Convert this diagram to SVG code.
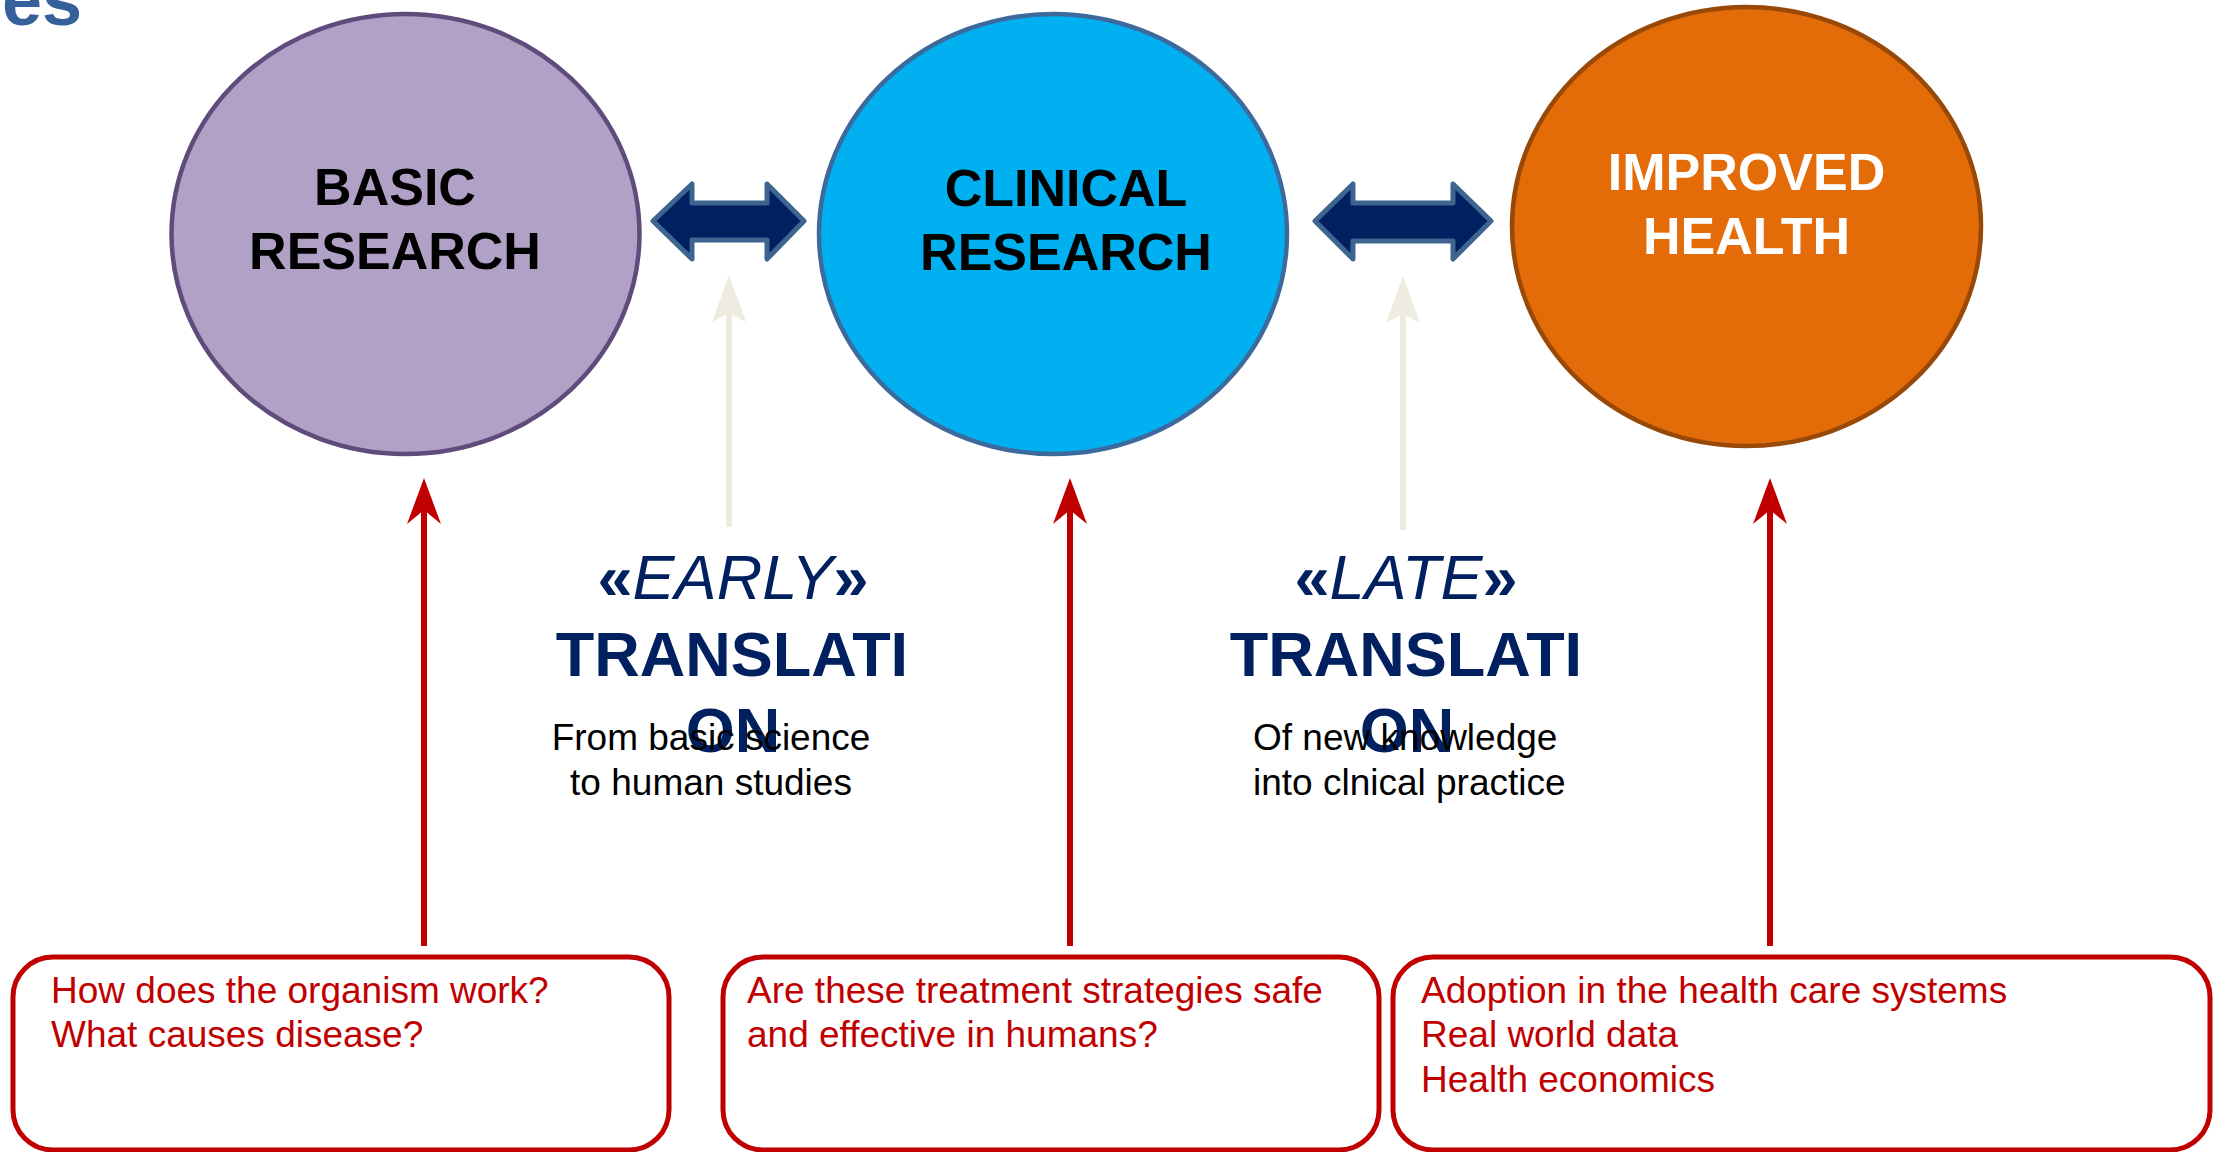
<svg xmlns="http://www.w3.org/2000/svg" width="2220" height="1152" viewBox="0 0 2220 1152">
<defs>
<style>
text{font-family:"Liberation Sans",Arial,sans-serif}
.node-label{font-weight:bold;font-size:52px;text-anchor:middle}
.tr-italic{font-style:italic;font-size:63px;fill:#002060;text-anchor:middle}
.gq{font-style:normal;font-weight:bold}
.tr-bold{font-weight:bold;font-size:63px;fill:#002060;text-anchor:middle}
.sub{font-size:37px;fill:#000}
.qtext{font-size:37px;fill:#c00000}
.qbox{fill:#fff;stroke:#c00000;stroke-width:5}
.red-line{stroke:#c00000;stroke-width:6;fill:none}
.light-line{stroke:#eeece1;stroke-width:6;fill:none}
.dbl{fill:#002060;stroke:#3d6590;stroke-width:5;stroke-linejoin:round}
</style>
<marker id="redHead" markerUnits="userSpaceOnUse" viewBox="-16 -17 46 34" refX="0" refY="0" markerWidth="46" markerHeight="34" orient="auto">
<path d="M30,0 L-16,-17 L-2,0 L-16,17 Z" fill="#c00000"/>
</marker>
<marker id="lightHead" markerUnits="userSpaceOnUse" viewBox="-17 -17 47 34" refX="0" refY="0" markerWidth="47" markerHeight="34" orient="auto">
<path d="M30,0 L-17,-17 L-8,0 L-17,17 Z" fill="#eeece1"/>
</marker>
</defs>
<rect width="2220" height="1152" fill="#fff"/>
<text x="2" y="25" style="font-weight:bold;font-size:72px;fill:#36609a">es</text>

<g id="node-basic">
<ellipse cx="405.5" cy="234" rx="234" ry="220" fill="#b2a1c7" stroke="#5f4b7c" stroke-width="4.5"/>
<text class="node-label" x="395" y="205">BASIC</text>
<text class="node-label" x="395" y="269">RESEARCH</text>
</g>
<g id="node-clinical">
<ellipse cx="1053" cy="234" rx="234" ry="220" fill="#00b0f0" stroke="#3d6a9c" stroke-width="4.5"/>
<text class="node-label" x="1066" y="206">CLINICAL</text>
<text class="node-label" x="1066" y="270">RESEARCH</text>
</g>
<g id="node-health">
<ellipse cx="1746.5" cy="226.5" rx="234.5" ry="219.5" fill="#e36c09" stroke="#984807" stroke-width="4.5"/>
<text class="node-label" x="1746.5" y="190" fill="#fff">IMPROVED</text>
<text class="node-label" x="1746.5" y="254" fill="#fff">HEALTH</text>
</g>

<g id="label-early">
<text class="tr-italic" x="733" y="599"><tspan class="gq">«</tspan>EARLY<tspan class="gq">»</tspan></text>
<text class="tr-bold" x="732" y="676">TRANSLATI</text>
<text class="tr-bold" x="733" y="752">ON</text>
<text class="sub" x="711" y="750" text-anchor="middle">From basic science</text>
<text class="sub" x="711" y="795" text-anchor="middle">to human studies</text>
</g>
<g id="label-late">
<text class="tr-italic" x="1406" y="599"><tspan class="gq">«</tspan>LATE<tspan class="gq">»</tspan></text>
<text class="tr-bold" x="1406" y="676">TRANSLATI</text>
<text class="tr-bold" x="1407" y="752">ON</text>
<text class="sub" x="1253" y="750">Of new knowledge</text>
<text class="sub" x="1253" y="795">into clnical practice</text>
</g>

<g id="box-basic">
<rect class="qbox" x="13" y="957" width="656" height="193" rx="40" ry="40"/>
<text class="qtext" x="51" y="1003">How does the organism work?</text>
<text class="qtext" x="51" y="1047">What causes disease?</text>
</g>
<g id="box-clinical">
<rect class="qbox" x="723" y="957" width="656" height="193" rx="40" ry="40"/>
<text class="qtext" x="747" y="1003">Are these treatment strategies safe</text>
<text class="qtext" x="747" y="1047">and effective in humans?</text>
</g>
<g id="box-health">
<rect class="qbox" x="1393" y="957" width="817" height="193" rx="40" ry="40"/>
<text class="qtext" x="1421" y="1003">Adoption in the health care systems</text>
<text class="qtext" x="1421" y="1047">Real world data</text>
<text class="qtext" x="1421" y="1092">Health economics</text>
</g>

<g id="connectors">
<path class="dbl" d="M653,221 L692,184 L692,203 L767,203 L767,184 L804,221 L767,259 L767,240 L692,240 L692,259 Z"/>
<path class="dbl" d="M1315,221 L1353,184 L1353,203 L1453,203 L1453,184 L1491,221 L1453,259 L1453,241 L1353,241 L1353,259 Z"/>
<line class="light-line" x1="729" y1="527" x2="729" y2="305" marker-end="url(#lightHead)"/>
<line class="light-line" x1="1403" y1="530" x2="1403" y2="306" marker-end="url(#lightHead)"/>
<line class="red-line" x1="424" y1="946" x2="424" y2="508" marker-end="url(#redHead)"/>
<line class="red-line" x1="1070" y1="946" x2="1070" y2="508" marker-end="url(#redHead)"/>
<line class="red-line" x1="1770" y1="946" x2="1770" y2="508" marker-end="url(#redHead)"/>
</g>
</svg>
